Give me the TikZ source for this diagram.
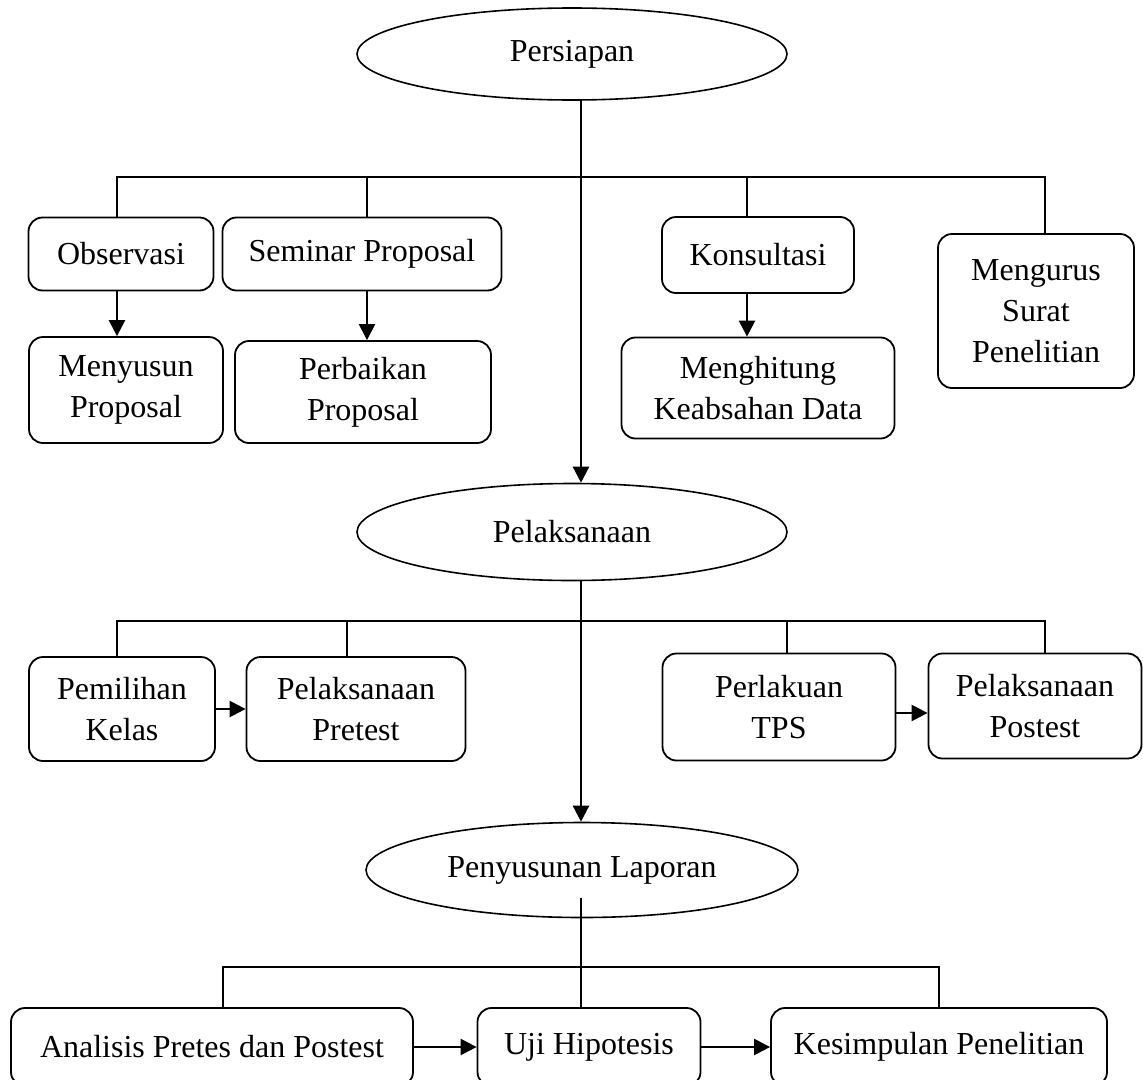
\documentclass[tikz,border=0pt]{standalone}
\usepackage{fontspec}
\setmainfont{Liberation Serif}
\usepackage{tikz}
\usetikzlibrary{shapes.geometric,arrows.meta,calc}

\begin{document}
\begin{tikzpicture}[x=1pt,y=-1pt,
	tahap/.style={ellipse,draw,line width=1.6pt,inner sep=0pt,font=\fontsize{32}{41}\selectfont},
	kotak/.style={rectangle,rounded corners=14pt,draw,line width=1.8pt,inner sep=0pt,align=center,font=\fontsize{32}{41}\selectfont},
	garis/.style={line width=1.3pt},
	panah/.style={line width=2.4pt,-{Triangle[length=16pt,width=16pt]}}]
	\useasboundingbox (0,0) rectangle (1143,1079);
	\clip (0,0) rectangle (1143,1079);
	% tahap utama
	\node[tahap,minimum width=430pt,minimum height=92pt] (pers) at (572,54) {Persiapan};
	\node[tahap,minimum width=430pt,minimum height=97pt] (pelak) at (572,532) {Pelaksanaan};
	\node[tahap,minimum width=432pt,minimum height=95pt] (peny) at (582,870) {Penyusunan Laporan};
	\coordinate (axis) at (581,0);
	% persiapan
	\node[kotak,minimum width=185pt,minimum height=73pt] (obs) at (121,254) {Observasi};
	\node[kotak,minimum width=279pt,minimum height=73pt] (sem) at (362,254) {Seminar Proposal};
	\node[kotak,minimum width=192pt,minimum height=76pt] (kons) at (758,255) {Konsultasi};
	\node[kotak,minimum width=196pt,minimum height=154pt] (surat) at (1036,311) {Mengurus\\Surat\\Penelitian};
	\node[kotak,minimum width=194pt,minimum height=106pt] (susun) at (126,390) {Menyusun\\Proposal};
	\node[kotak,minimum width=256pt,minimum height=102pt] (perb) at (363,392) {Perbaikan\\Proposal};
	\node[kotak,minimum width=273pt,minimum height=101pt] (hitung) at (758,388) {Menghitung\\Keabsahan Data};
	\coordinate (b1a) at (117,177);
	\coordinate (b1b) at (367,177);
	\coordinate (b1c) at (747,177);
	\coordinate (b1d) at (1045,177);
	\draw[garis] (b1a |- obs.north) -- (b1a) -- (b1d) -- (b1d |- surat.north);
	\draw[garis] (b1b) -- (b1b |- sem.north);
	\draw[garis] (b1c) -- (b1c |- kons.north);
	\draw[panah] (b1a |- obs.south) -- (b1a |- susun.north);
	\draw[panah] (b1b |- sem.south) -- (b1b |- perb.north);
	\draw[panah] (b1c |- kons.south) -- (b1c |- hitung.north);
	\draw[panah] (axis |- pers.south) -- (axis |- pelak.north);
	% pelaksanaan
	\node[kotak,minimum width=186pt,minimum height=104pt] (kelas) at (122,709) {Pemilihan\\Kelas};
	\node[kotak,minimum width=219pt,minimum height=104pt] (pre) at (356,709) {Pelaksanaan\\Pretest};
	\node[kotak,minimum width=233pt,minimum height=107pt] (tps) at (779,707) {Perlakuan\\TPS};
	\node[kotak,minimum width=213pt,minimum height=105pt] (post) at (1035,706) {Pelaksanaan\\Postest};
	\coordinate (b2a) at (117,621);
	\coordinate (b2b) at (347,621);
	\coordinate (b2c) at (787,621);
	\coordinate (b2d) at (1045,621);
	\draw[garis] (b2a |- kelas.north) -- (b2a) -- (b2d) -- (b2d |- post.north);
	\draw[garis] (b2b) -- (b2b |- pre.north);
	\draw[garis] (b2c) -- (b2c |- tps.north);
	\draw[panah] (kelas.east) -- (pre.west);
	\draw[panah] (tps.east |- 0,713) -- (post.west |- 0,713);
	\draw[panah] (axis |- pelak.south) -- (axis |- peny.north);
	% penyusunan laporan
	\node[kotak,minimum width=402pt,minimum height=78pt] (ana) at (212,1047) {Analisis Pretes dan Postest};
	\node[kotak,minimum width=223pt,minimum height=78pt] (uji) at (589,1047) {Uji Hipotesis};
	\node[kotak,minimum width=336pt,minimum height=78pt] (kes) at (939,1047) {Kesimpulan Penelitian};
	\coordinate (b3a) at (223,967);
	\coordinate (b3b) at (939,967);
	\draw[garis] (b3a |- ana.north) -- (b3a) -- (b3b) -- (b3b |- kes.north);
	\draw[garis] (axis |- 0,898) -- (axis |- uji.north);
	\draw[panah] (ana.east) -- (uji.west);
	\draw[panah] (uji.east) -- (kes.west);
\end{tikzpicture}
\end{document}
